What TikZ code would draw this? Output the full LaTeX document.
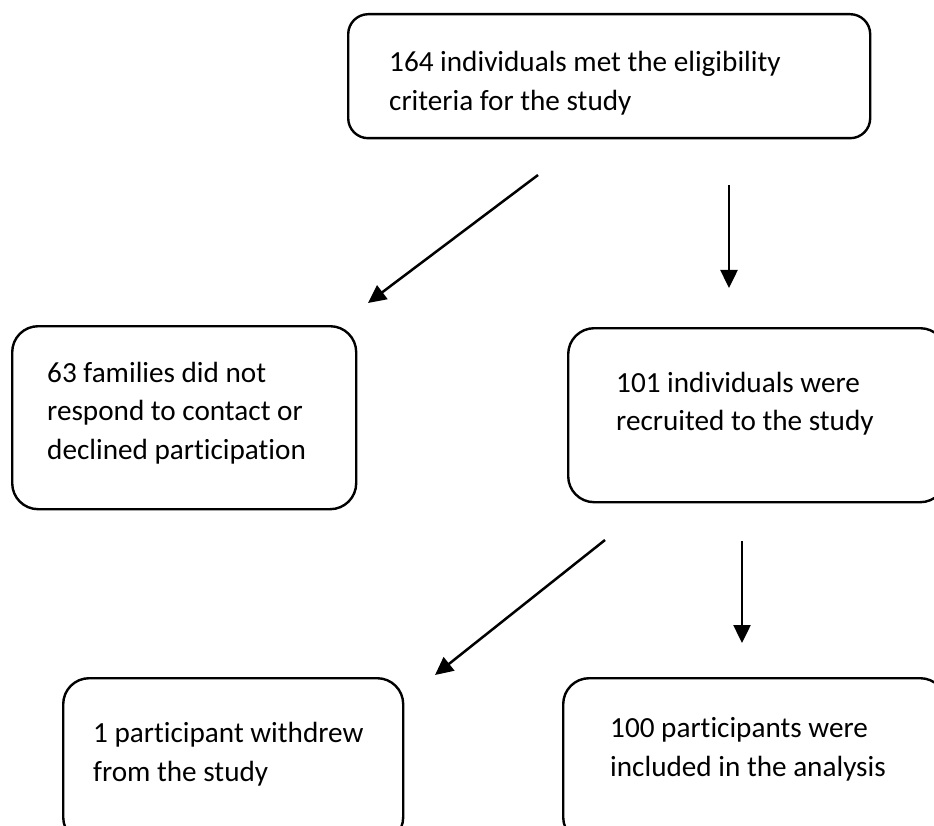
\documentclass[tikz,border=0pt]{standalone}
\usepackage{fontspec}
\setmainfont{Carlito}[Ligatures=NoCommon]
\usetikzlibrary{arrows.meta}
\begin{document}
\begin{tikzpicture}[x=1pt,y=-1pt,
  box/.style={draw, line width=2.4pt, rounded corners=26pt, inner sep=0pt, anchor=north west},
  lbl/.style={anchor=base west, inner sep=0pt, font=\fontsize{29.2}{39}\selectfont},
  arr/.style={line width=2.5pt, -{Triangle[length=18pt,width=17pt]}}]
\useasboundingbox (0,0) rectangle (934,826);
\clip (0,0) rectangle (934,826);
% boxes
\node[box, rounded corners=20pt, minimum width=522pt, minimum height=124pt] (b1) at (347,13) {};
\node[box, minimum width=344pt, minimum height=183pt] (b2) at (11,325) {};
\node[box, minimum width=378pt, minimum height=174pt] (b3) at (567,327) {};
\node[box, minimum width=340pt, minimum height=165pt] (b4) at (62,677) {};
\node[box, minimum width=383pt, minimum height=165pt] (b5) at (562,677) {};
% texts
\node[lbl] (t1a) at (389,72) {164 individuals met the eligibility};
\node[lbl] (t1b) at (389,111) {criteria for the study};
\node[lbl] (t2a) at (47,382) {63 families did not};
\node[lbl] (t2b) at (47,420) {respond to contact or};
\node[lbl] (t2c) at (47,459) {declined participation};
\node[lbl] (t3a) at (616,392) {101 individuals were};
\node[lbl] (t3b) at (616,430) {recruited to the study};
\node[lbl] (t4a) at (93,742) {1 participant withdrew};
\node[lbl] (t4b) at (93,781) {from the study};
\node[lbl] (t5a) at (610,737) {100 participants were};
\node[lbl] (t5b) at (610,776) {included in the analysis};
% arrow ends
\coordinate (a1s) at (538,175);
\coordinate (a1e) at (368,303);
\coordinate (a2s) at (729,185);
\coordinate (a2e) at (729,288);
\coordinate (a3s) at (605,540);
\coordinate (a3e) at (435,675);
\coordinate (a4s) at (742,541);
\coordinate (a4e) at (742,643);
\draw[arr] (a1s) -- (a1e);
\draw[arr] (a2s) -- (a2e);
\draw[arr] (a3s) -- (a3e);
\draw[arr] (a4s) -- (a4e);
\end{tikzpicture}
\end{document}
